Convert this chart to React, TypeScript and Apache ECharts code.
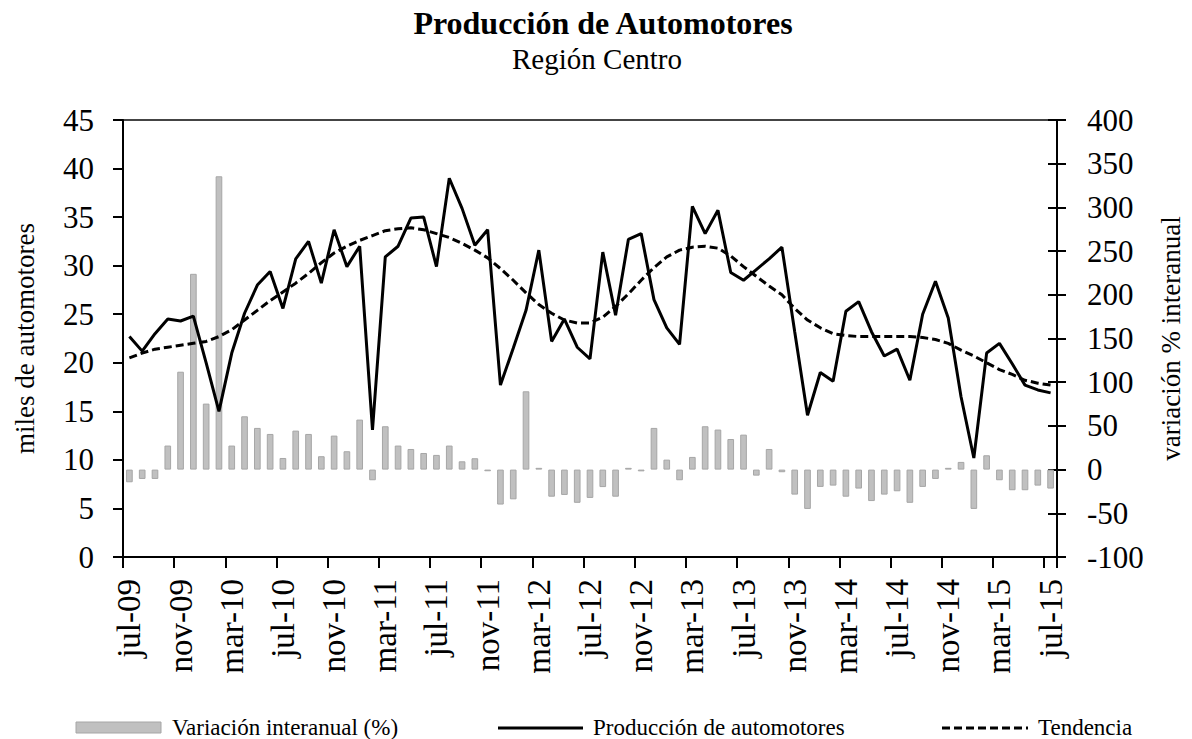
import React, { useEffect, useRef } from "react";
import * as echarts from "echarts";

const categories = [
  "jul-09", "ago-09", "sep-09", "oct-09", "nov-09", "dic-09",
  "ene-10", "feb-10", "mar-10", "abr-10", "may-10", "jun-10", "jul-10", "ago-10", "sep-10", "oct-10", "nov-10", "dic-10",
  "ene-11", "feb-11", "mar-11", "abr-11", "may-11", "jun-11", "jul-11", "ago-11", "sep-11", "oct-11", "nov-11", "dic-11",
  "ene-12", "feb-12", "mar-12", "abr-12", "may-12", "jun-12", "jul-12", "ago-12", "sep-12", "oct-12", "nov-12", "dic-12",
  "ene-13", "feb-13", "mar-13", "abr-13", "may-13", "jun-13", "jul-13", "ago-13", "sep-13", "oct-13", "nov-13", "dic-13",
  "ene-14", "feb-14", "mar-14", "abr-14", "may-14", "jun-14", "jul-14", "ago-14", "sep-14", "oct-14", "nov-14", "dic-14",
  "ene-15", "feb-15", "mar-15", "abr-15", "may-15", "jun-15", "jul-15",
];

const variacion = [
  -14.5, -10.7, -10.7, 27.5, 112, 224, 75.5, 335.6, 27.5, 61,
  47.7, 40.8, 13.3, 44.6, 40.8, 15.3, 38.9, 21, 57.2, -12.2,
  49.6, 27.5, 23.6, 19, 16.8, 27.5, 9.5, 13, -1.9, -40,
  -34, 89.6, 2, -31, -29, -38, -32.4, -20, -31, 2,
  -2, 47.7, 11.4, -12.2, 14.5, 49.6, 45.8, 35, 40, -6.9,
  23.6, -3, -28.6, -45, -19.8, -18.3, -31, -21.7, -36, -28.6,
  -24.8, -38, -19.8, -10.7, 2, 8.8, -45, 16.4, -12.2, -23.6,
  -23.6, -18.3, -21.7,
];

const produccion = [
  22.7, 21.2, 23.0, 24.5, 24.3, 24.8, 20.0, 15.0, 21.0, 25.1,
  28.0, 29.4, 25.6, 30.7, 32.5, 28.2, 33.7, 29.9, 32.0, 13.1,
  30.9, 32.0, 34.9, 35.0, 29.9, 39.0, 35.9, 32.1, 33.7, 17.7,
  21.5, 25.4, 31.6, 22.2, 24.5, 21.6, 20.4, 31.4, 24.9, 32.7,
  33.3, 26.5, 23.6, 21.9, 36.1, 33.3, 35.7, 29.3, 28.5, 29.6,
  30.7, 31.9, 23.2, 14.6, 19.0, 18.1, 25.3, 26.3, 23.2, 20.7,
  21.4, 18.2, 25.0, 28.4, 24.6, 16.5, 10.2, 21.0, 22.0, 19.9,
  17.7, 17.2, 16.9,
];

const tendencia = [
  20.5, 21.0, 21.4, 21.6, 21.8, 22.0, 22.2, 22.7, 23.4, 24.4,
  25.4, 26.4, 27.3, 28.2, 29.2, 30.3, 31.3, 32.0, 32.6, 33.1,
  33.6, 33.8, 33.9, 33.7, 33.3, 32.9, 32.3, 31.6, 30.8, 29.7,
  28.5, 27.2, 26.0, 25.1, 24.4, 24.1, 24.1, 24.7, 25.8, 27.1,
  28.5, 29.8, 30.9, 31.6, 31.9, 32.0, 31.8, 31.0, 29.9, 28.9,
  27.9, 27.0, 25.6, 24.4, 23.6, 23.0, 22.8, 22.7, 22.7, 22.7,
  22.7, 22.7, 22.6, 22.4, 22.0, 21.3, 20.7, 20.0, 19.3, 18.8,
  18.2, 17.9, 17.7,
];

const seriesNames = ["Variación interanual (%)", "Producción de automotores", "Tendencia"];

const FONT = "'Liberation Serif', 'Times New Roman', serif";
const BAR_FILL = "#c0c0c0";
const BAR_STROKE = "#a6a6a6";
const DASH = [8, 4];

export default function App() {
  const ref = useRef<HTMLDivElement>(null);

  useEffect(() => {
    const chart = echarts.init(ref.current!, null, { renderer: "svg" });
    const legendText = (text: string, x: number) => ({
      type: "text",
      x,
      y: 727,
      style: {
        text,
        font: `23px ${FONT}`,
        fill: "#000",
        textAlign: "left",
        textVerticalAlign: "middle",
      },
    });
    chart.setOption({
      animation: false,
      backgroundColor: "#fff",
      graphic: [
        {
          type: "text",
          x: 603,
          y: 23,
          style: {
            text: "Producción de Automotores",
            font: `bold 32px ${FONT}`,
            fill: "#000",
            textAlign: "center",
            textVerticalAlign: "middle",
          },
        },
        {
          type: "text",
          x: 597,
          y: 59,
          style: {
            text: "Región Centro",
            font: `29px ${FONT}`,
            fill: "#000",
            textAlign: "center",
            textVerticalAlign: "middle",
          },
        },
        {
          type: "rect",
          shape: { x: 76, y: 722, width: 85, height: 11 },
          style: { fill: BAR_FILL, stroke: BAR_STROKE, lineWidth: 1 },
        },
        legendText(seriesNames[0], 172),
        {
          type: "line",
          shape: { x1: 498, y1: 728, x2: 583, y2: 728 },
          style: { stroke: "#000", lineWidth: 3 },
        },
        legendText(seriesNames[1], 593),
        {
          type: "line",
          shape: { x1: 942, y1: 728, x2: 1028, y2: 728 },
          style: { stroke: "#000", lineWidth: 3, lineDash: DASH },
        },
        legendText(seriesNames[2], 1038),
      ],
      grid: {
        left: 123,
        right: 131,
        top: 120,
        bottom: 182,
        show: true,
        borderColor: "#444",
        borderWidth: 2,
      },
      xAxis: {
        type: "category",
        data: categories,
        boundaryGap: true,
        axisLine: { lineStyle: { color: "#000", width: 2 } },
        axisTick: { show: true, interval: 3, length: 11, alignWithLabel: false, lineStyle: { color: "#000", width: 2 } },
        axisLabel: { interval: 3, rotate: 90, margin: 22, fontFamily: FONT, fontSize: 33, color: "#000" },
        splitLine: { show: false },
      },
      yAxis: [
        {
          type: "value",
          min: 0,
          max: 45,
          interval: 5,
          position: "left",
          name: "miles de automotores",
          nameLocation: "middle",
          nameRotate: 90,
          nameGap: 85,
          nameTextStyle: { fontFamily: FONT, fontSize: 27, color: "#000" },
          axisLine: { show: true, lineStyle: { color: "#000", width: 2 } },
          axisTick: { show: true, length: 10, lineStyle: { color: "#000", width: 2 } },
          axisLabel: { margin: 29, fontFamily: FONT, fontSize: 31, color: "#000" },
          splitLine: { show: false },
        },
        {
          type: "value",
          min: -100,
          max: 400,
          interval: 50,
          position: "right",
          name: "variación % interanual",
          nameLocation: "middle",
          nameRotate: 90,
          nameGap: 100,
          nameTextStyle: { fontFamily: FONT, fontSize: 27, color: "#000" },
          axisLine: { show: true, lineStyle: { color: "#000", width: 2 } },
          axisTick: { show: true, inside: true, length: 9, lineStyle: { color: "#000", width: 2 } },
          axisLabel: { margin: 30, fontFamily: FONT, fontSize: 31, color: "#000" },
          splitLine: { show: false },
        },
        {
          type: "value",
          min: -100,
          max: 400,
          interval: 50,
          position: "right",
          axisLine: { show: false },
          axisTick: { show: true, length: 9, lineStyle: { color: "#000", width: 2 } },
          axisLabel: { show: false },
          splitLine: { show: false },
        },
      ],
      series: [
        {
          name: seriesNames[0],
          type: "bar",
          yAxisIndex: 1,
          data: variacion,
          barCategoryGap: "48%",
          itemStyle: { color: BAR_FILL, borderColor: BAR_STROKE, borderWidth: 1 },
        },
        {
          name: seriesNames[1],
          type: "line",
          yAxisIndex: 0,
          data: produccion,
          symbol: "none",
          lineStyle: { color: "#000", width: 3 },
          itemStyle: { color: "#000" },
        },
        {
          name: seriesNames[2],
          type: "line",
          yAxisIndex: 0,
          data: tendencia,
          symbol: "none",
          lineStyle: { color: "#000", width: 3, type: DASH },
          itemStyle: { color: "#000" },
        },
      ],
    });
    return () => chart.dispose();
  }, []);

  return (
    <div
      ref={ref}
      style={{ position: "fixed", left: 0, top: 0, width: 1192, height: 739, background: "#fff" }}
    />
  );
}
